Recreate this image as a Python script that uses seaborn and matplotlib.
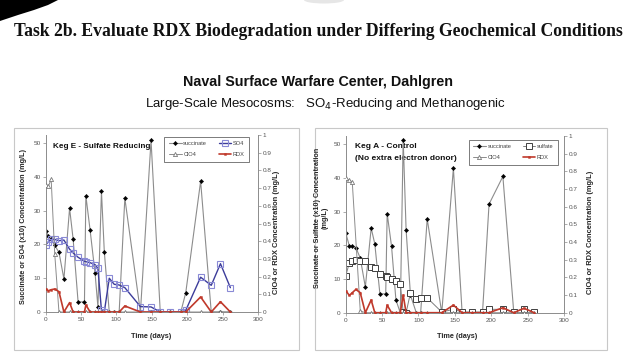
import matplotlib
matplotlib.use("Agg")
import matplotlib.pyplot as plt
import seaborn as sns
from matplotlib.patches import Rectangle, Polygon, Ellipse

# ---------------- Keg E - Sulfate Reducing ----------------
days_e = [0, 4, 8, 13, 19, 26, 34, 39, 46, 55, 57, 63, 70, 74, 79, 83, 90, 97, 104, 112,
          134, 149, 162, 176, 191, 198, 219, 234, 247, 261]
succ_e = [24.1, 22.5, 21.5, 19.7, 17.7, 9.8, 30.7, 21.6, 3.0, 3.0, 34.4, 24.2, 11.4, 1.5, 35.7, 17.9,
          0, 0, 0, 33.7, 0, 50.8, 0, 0, 0, 5.7, 38.7, 0, 0, 0]
so4_e = [19.8, 20.8, 21.5, 21.5, 21.1, 21.3, 18.6, 17.5, 16.2, 15.0, 14.9, 14.6, 14.0, 12.9, 0.5, 0,
         10.0, 8.2, 8.0, 7.2, 1.6, 1.5, 0, 0, 0, 0.5, 10.3, 7.9, 14.3, 7.2]
clo4_e = [0.72, 0.71, 0.75, 0.33, 0, 0, 0, 0, 0, 0, 0, 0, 0, 0, 0, 0,
          0, 0, 0, 0, 0, 0, 0, 0, 0, 0, 0, 0, 0, 0]
rdx_e = [0.132, 0.12, 0.126, 0.13, 0.115, 0, 0.053, 0, 0, 0, 0.04, 0, 0, 0, 0, 0,
         0, 0, 0, 0.034, 0, 0, 0, 0, 0, 0, 0.085, 0, 0.058, 0]

# ---------------- Keg A - Control ----------------
days_a = [0, 5, 9, 14, 20, 27, 35, 40, 47, 55, 57, 63, 69, 75, 79, 83, 89, 97, 103, 112,
          132, 148, 160, 174, 188, 197, 216, 231, 245, 259]
succ_a = [23.7, 19.8, 19.8, 19.3, 16.2, 7.6, 25.1, 20.4, 5.6, 5.6, 29.4, 19.7, 3.8, 0, 51.3, 24.6,
          5.2, 0, 0, 27.8, 0, 42.8, 0, 0, 0, 32.2, 40.4, 0, 0, 0]
sulf_a = [10.9, 14.8, 15.3, 15.5, 15.3, 15.3, 13.7, 13.2, 11.5, 10.8, 10.6, 10.1, 9.4, 8.4, 0.2, 0,
          5.9, 4.0, 4.4, 4.4, 0.2, 1.0, 0.2, 0.2, 0.2, 1.0, 1.0, 0.2, 1.2, 0.2]
clo4_days_a = [0, 5, 9, 20, 27, 35, 40, 47, 55, 57, 63, 69, 75, 79, 83, 89, 97, 103, 112,
               132, 148, 160, 174, 188, 197, 216, 231, 245, 259]
clo4_a = [0.76, 0.75, 0.74, 0.01, 0, 0, 0, 0, 0, 0, 0, 0, 0, 0, 0, 0, 0, 0, 0,
          0, 0, 0, 0, 0, 0, 0, 0, 0, 0]
rdx_a = [0.125, 0.098, 0.113, 0.132, 0.113, 0, 0.072, 0, 0, 0, 0.043, 0, 0, 0, 0.1, 0,
         0, 0, 0, 0, 0, 0.043, 0, 0, 0, 0, 0.028, 0, 0.025, 0]

x_ticks = [0, 50, 100, 150, 200, 250, 300]
left_ticks = [0, 10, 20, 30, 40, 50]
right_ticks = [0, 0.1, 0.2, 0.3, 0.4, 0.5, 0.6, 0.7, 0.8, 0.9, 1]
right_labels = ["0", "0.1", "0.2", "0.3", "0.4", "0.5", "0.6", "0.7", "0.8", "0.9", "1"]

sns.set_theme(style="white")
SANS = ["Liberation Sans", "DejaVu Sans"]
plt.rcParams["font.family"] = SANS

W, H = 640, 360
fig = plt.figure(figsize=(6.4, 3.6), dpi=100)
fig.patch.set_facecolor("white")

# background overlay in pixel coordinates
bg = fig.add_axes([0, 0, 1, 1], zorder=0)
bg.set_xlim(0, W)
bg.set_ylim(H, 0)
bg.axis("off")

# decorative corner shape
bg.add_patch(Polygon([(0, 0), (58, 0), (48, 5), (34, 10), (18, 15), (0, 21)],
                     closed=True, facecolor="black", edgecolor="none"))
bg.add_patch(Ellipse((324, 0), 40, 7, facecolor="#e6e6e6", edgecolor="none"))

# chart frames
bg.add_patch(Rectangle((14, 128), 285, 222, facecolor="white", edgecolor="#c8c8c8", lw=0.8))
bg.add_patch(Rectangle((315, 128), 292, 222, facecolor="white", edgecolor="#c8c8c8", lw=0.8))

# slide texts
bg.text(318, 31, "Task 2b. Evaluate RDX Biodegradation under Differing Geochemical Conditions",
        ha="center", va="center", fontsize=12.7, fontweight="bold",
        family=["Liberation Serif", "DejaVu Serif"], color="#111111")
bg.text(318, 82, "Naval Surface Warfare Center, Dahlgren", ha="center", va="center",
        fontsize=10.3, fontweight="bold", family=SANS, color="#111111")
bg.text(325, 104, r"Large-Scale Mesocosms:   SO$_4$-Reducing and Methanogenic", ha="center",
        va="center", fontsize=9.5, family=SANS, color="#111111")


def rect(l, t, r, b):
    return [l / W, 1 - b / H, (r - l) / W, (b - t) / H]


def style_axes(ax, ax2):
    ax.set_facecolor("none")
    ax2.set_facecolor("none")
    for s in ["top", "right"]:
        ax.spines[s].set_visible(False)
    for s in ["top", "left", "bottom"]:
        ax2.spines[s].set_visible(False)
    for sp in [ax.spines["left"], ax.spines["bottom"], ax2.spines["right"]]:
        sp.set_color("#8c8c8c")
        sp.set_linewidth(0.7)
    ax.set_xlim(0, 300)
    ax.set_ylim(0, 52.4)
    ax2.set_ylim(0, 1)
    ax.set_xticks(x_ticks)
    ax.set_yticks(left_ticks)
    ax2.set_yticks(right_ticks)
    ax2.set_yticklabels(right_labels)
    ax.tick_params(left=True, bottom=True, labelsize=4.6, labelcolor="#555555", color="#8c8c8c",
                   length=2, width=0.5, pad=1.5)
    ax2.tick_params(right=True, labelsize=4.6, labelcolor="#555555", color="#8c8c8c",
                    length=2, width=0.5, pad=1.5)
    ax.set_xlabel("")
    ax.set_ylabel("")
    ax2.set_ylabel("")
    ax.grid(False)
    ax2.grid(False)


def line(ax, x, y, label, **kw):
    sns.lineplot(x=x, y=y, ax=ax, estimator=None, sort=False, label=label, legend=False, **kw)
    return ax.get_lines()[-1]


def make_legend(ax2, handles, anchor):
    leg = ax2.legend(handles=handles, ncol=2, loc="upper right", bbox_to_anchor=anchor,
                     frameon=True, fancybox=False, handlelength=2.2, columnspacing=2.0,
                     labelspacing=1.0, borderpad=0.8, handletextpad=0.3,
                     prop={"family": SANS, "size": 4.1})
    leg.get_frame().set_edgecolor("#404040")
    leg.get_frame().set_linewidth(0.6)
    for t in leg.get_texts():
        t.set_color("#404040")
    return leg


# ---------------- Keg E ----------------
axE = fig.add_axes(rect(45.5, 135, 258, 312), zorder=2)
axE2 = axE.twinx()
h1 = line(axE, days_e, succ_e, "succinate", color="#8c8c8c", linewidth=0.8, marker="D",
          markersize=2.2, markerfacecolor="black", markeredgecolor="black", markeredgewidth=0.3)
h2 = line(axE, days_e, so4_e, "SO4", color="#3c3c9a", linewidth=1.0, marker="s", markersize=4.5,
          markerfacecolor="none", markeredgecolor="#8a8ad6", markeredgewidth=0.8)
h3 = line(axE2, days_e, clo4_e, "ClO4", color="#8c8c8c", linewidth=0.7, marker="^", markersize=3,
          markerfacecolor="white", markeredgecolor="#7a7a7a", markeredgewidth=0.6)
h4 = line(axE2, days_e, rdx_e, "RDX", color="#c0392b", linewidth=1.2, marker="s", markersize=1.4,
          markerfacecolor="#c0392b", markeredgecolor="#c0392b", markeredgewidth=0.3)
style_axes(axE, axE2)
make_legend(axE2, [h1, h3, h2, h4], (0.972, 1.006))

bg.text(53, 147, "Keg E - Sulfate Reducing", ha="left", va="center", fontsize=5.9,
        fontweight="bold", family=SANS, color="#111111")
bg.text(24, 226, "Succinate or SO4 (x10) Concentration (mg/L)", rotation=90, ha="center",
        va="center", fontsize=5.2, fontweight="bold", family=SANS, color="#262626")
bg.text(277, 232, "ClO4 or RDX Concentration (mg/L)", rotation=90, ha="center",
        va="center", fontsize=5.4, fontweight="bold", family=SANS, color="#262626")
bg.text(151, 337, "Time (days)", ha="center", va="center", fontsize=5.2, fontweight="bold",
        family=SANS, color="#262626")

# ---------------- Keg A ----------------
axA = fig.add_axes(rect(345.7, 136, 564, 312.7), zorder=2)
axA2 = axA.twinx()
g1 = line(axA, days_a, succ_a, "succinate", color="#8c8c8c", linewidth=0.8, marker="D",
          markersize=2.2, markerfacecolor="black", markeredgecolor="black", markeredgewidth=0.3)
g2 = line(axA, days_a, sulf_a, "sulfate", color="#7f7f7f", linewidth=0.7, marker="s",
          markersize=5, markerfacecolor="white", markeredgecolor="#404040", markeredgewidth=0.7)
g3 = line(axA2, clo4_days_a, clo4_a, "ClO4", color="#8c8c8c", linewidth=0.7, marker="^",
          markersize=3, markerfacecolor="white", markeredgecolor="#7a7a7a", markeredgewidth=0.6)
g4 = line(axA2, days_a, rdx_a, "RDX", color="#c0392b", linewidth=1.2, marker="s", markersize=1.4,
          markerfacecolor="#c0392b", markeredgecolor="#c0392b", markeredgewidth=0.3)
style_axes(axA, axA2)
make_legend(axA2, [g1, g3, g2, g4], (0.986, 0.994))

bg.text(355, 146, "Keg A - Control", ha="left", va="center", fontsize=6.0,
        fontweight="bold", family=SANS, color="#111111")
bg.text(355, 159, "(No extra electron donor)", ha="left", va="center", fontsize=6.0,
        fontweight="bold", family=SANS, color="#111111")
bg.text(321, 218, "Succinate or Sulfate (x10) Concentration\n(mg/L)", rotation=90,
        ha="center", va="center", fontsize=5.2, fontweight="bold", family=SANS,
        color="#262626", linespacing=1.1)
bg.text(590, 232, "ClO4 or RDX Concentration (mg/L)", rotation=90, ha="center",
        va="center", fontsize=5.4, fontweight="bold", family=SANS, color="#262626")
bg.text(457, 337, "Time (days)", ha="center", va="center", fontsize=5.2, fontweight="bold",
        family=SANS, color="#262626")

fig.savefig("out.png", dpi=100, facecolor="white")
